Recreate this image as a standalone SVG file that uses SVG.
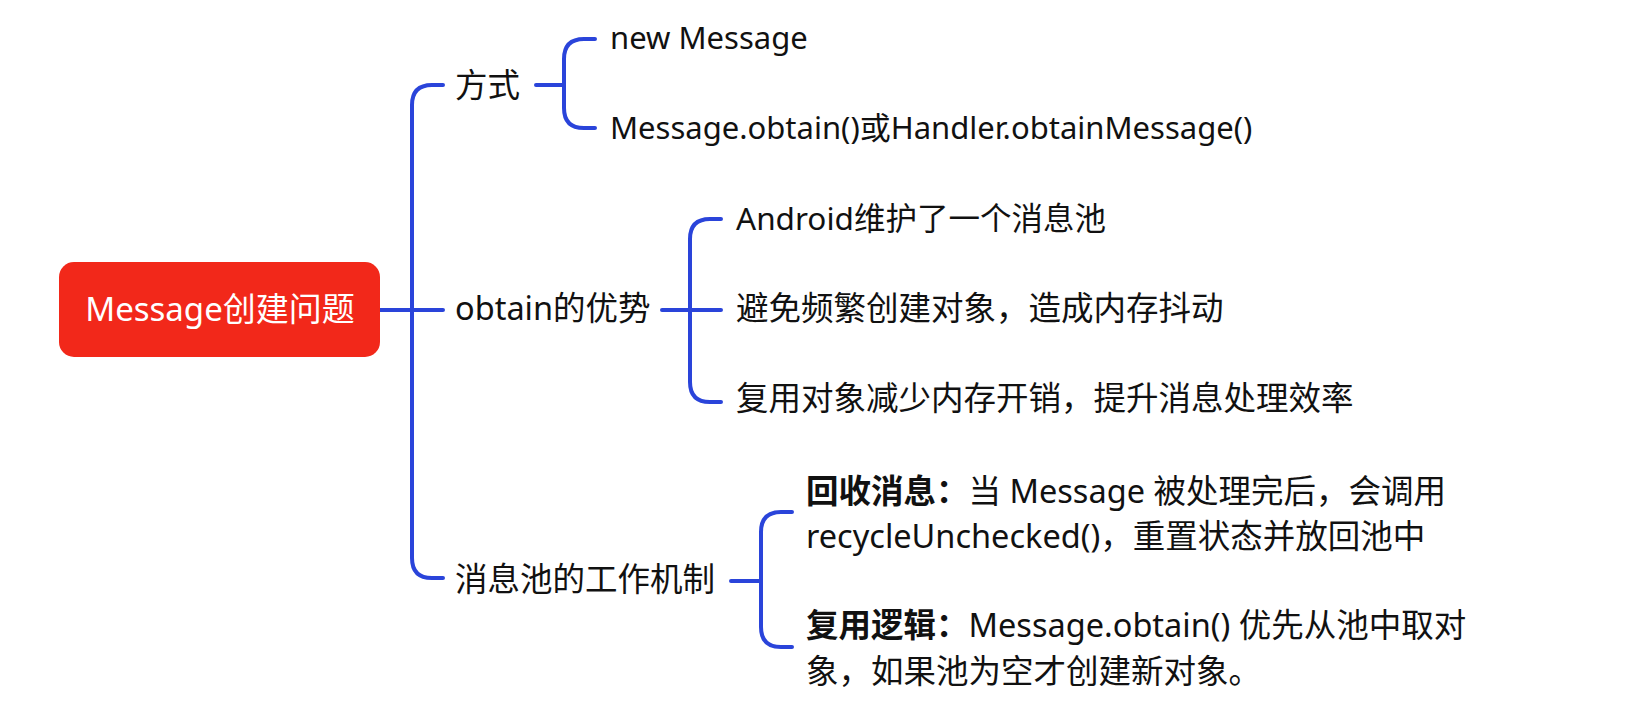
<svg xmlns="http://www.w3.org/2000/svg" width="1625" height="726" viewBox="0 0 1625 726">
<style>
.c{fill:none;stroke:#2A44DA;stroke-width:4;stroke-linecap:round}
.t{font-family:"Noto Sans","Noto Sans CJK SC",sans-serif;font-size:32.5px;fill:#111}
.l{font-size:31px}
.b{font-weight:bold}
</style>
<rect width="1625" height="726" fill="#fff"/>
<g id="connectors">
<path class="c" d="M380 310H412M412 310H443M443 85H432Q412 85 412 105V558Q412 578 432 578H443"/>
<path class="c" d="M536 85H564M595 39H584Q564 39 564 59V108Q564 128 584 128H595"/>
<path class="c" d="M662 310H721M721 219H710Q690 219 690 239V382Q690 402 710 402H721"/>
<path class="c" d="M731 581H761M792 512H781Q761 512 761 532V627Q761 647 781 647H792"/>
</g>
<g id="root"><rect x="59" y="262" width="321" height="95" rx="15" fill="#F2281A"/>
<text class="t" x="220" y="321" text-anchor="middle" style="fill:#fff;font-size:33px">Message创建问题</text></g>
<g id="n1"><text class="t" x="455" y="97">方式</text></g>
<g id="n2"><text class="t" x="455" y="320">obtain的优势</text></g>
<g id="n3"><text class="t" x="455" y="591">消息池的工作机制</text></g>
<g id="n11"><text class="t l" x="610" y="49">new Message</text></g>
<g id="n12"><text class="t l" x="610" y="139">Message.obtain()或Handler.obtainMessage()</text></g>
<g id="n21"><text class="t" x="736" y="230" style="font-size:31.5px">Android维护了一个消息池</text></g>
<g id="n22"><text class="t" x="736" y="320">避免频繁创建对象，造成内存抖动</text></g>
<g id="n23"><text class="t" x="736" y="410">复用对象减少内存开销，提升消息处理效率</text></g>
<g id="n31"><text class="t" x="806" y="503"><tspan class="b">回收消息：</tspan>当 Message 被处理完后，会调用</text>
<text class="t" x="806" y="548">recycleUnchecked()，重置状态并放回池中</text></g>
<g id="n32"><text class="t" x="806" y="637"><tspan class="b">复用逻辑：</tspan>Message.obtain() 优先从池中取对</text>
<text class="t" x="806" y="683">象，如果池为空才创建新对象。</text></g>
</svg>
